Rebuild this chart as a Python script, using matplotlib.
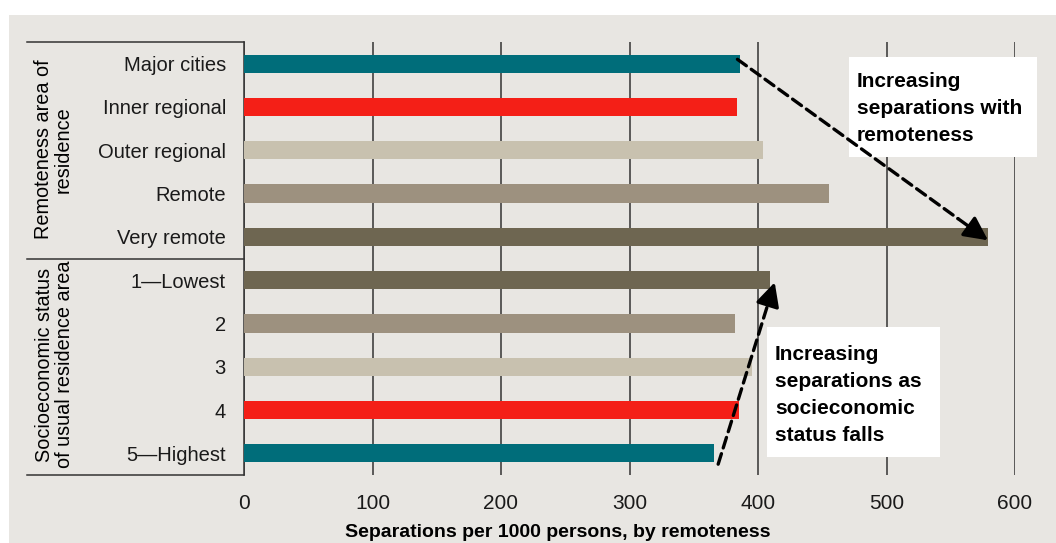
import matplotlib.pyplot as plt
from matplotlib.patches import Rectangle
import matplotlib.transforms as mtransforms

# donnees
categories = ['Major cities', 'Inner regional', 'Outer regional', 'Remote', 'Very remote',
              '1\u2014Lowest', '2', '3', '4', '5\u2014Highest']
values = [386, 384, 404, 455, 579, 409, 382, 395, 385, 366]
colours = ['#006D7A', '#F41F17', '#C8C1AF', '#9D917F', '#6E6651',
           '#6E6651', '#9D917F', '#C8C1AF', '#F41F17', '#006D7A']
groups = ['Remoteness area of\nresidence', 'Socioeconomic status\nof usual residence area']
xticks = [0, 100, 200, 300, 400, 500, 600]
note1 = 'Increasing\nseparations with\nremoteness'
note2 = 'Increasing\nseparations as\nsocieconomic\nstatus falls'

W, H = 1056, 543
def fx(px):
    return px / W
def fy(py):
    return 1 - py / H

plt.rcParams['font.family'] = ['Liberation Sans', 'DejaVu Sans']
fig = plt.figure(figsize=(W / 100, H / 100), dpi=100, facecolor='white')

# panneau gris
fig.patches.append(Rectangle((fx(9), 0), 1 - fx(9), fy(15), transform=fig.transFigure,
                             facecolor='#E8E6E2', edgecolor='none', zorder=-1))

ax = fig.add_axes([fx(244), fy(475), fx(1015) - fx(244), fy(42) - fy(475)])
ax.set_facecolor('none')
ypos = list(range(len(categories)))
ax.barh(ypos, values, height=0.42, color=colours, zorder=3)
ax.set_xlim(0, 600)
ax.set_ylim(len(categories) - 0.5, -0.5)
ax.set_xticks(xticks)
ax.set_xticklabels([str(t) for t in xticks], fontsize=15)
ax.set_yticks(ypos)
ax.set_yticklabels(categories, fontsize=14.5)
ax.tick_params(axis='both', length=0, colors='#1a1a1a')
ax.tick_params(axis='x', pad=14)
ax.tick_params(axis='y', pad=13)
ax.grid(axis='x', color='#333333', lw=1.1, zorder=1)
for s in ['top', 'right', 'bottom']:
    ax.spines[s].set_visible(False)
ax.spines['left'].set_color('#333333')
ax.spines['left'].set_linewidth(1.1)
ax.set_xlabel('Separations per 1000 persons, by remoteness', fontsize=14, fontweight='bold',
              labelpad=7.5, x=(558 - 244) / (1015 - 244))

# lignes de separation des groupes
trans = mtransforms.blended_transform_factory(fig.transFigure, ax.transData)
for yl in [-0.5, 4.5, len(categories) - 0.5]:
    ax.plot([fx(27), fx(244)], [yl, yl], transform=trans, color='#333333', lw=1.1, clip_on=False)

# titres de groupes
ax.text(fx(53.5), 1.98, groups[0], transform=trans, rotation=90, ha='center', va='center',
        fontsize=14.3, linespacing=1.05)
ax.text(fx(54.5), 6.95, groups[1], transform=trans, rotation=90, ha='center', va='center',
        fontsize=14.3, linespacing=1.05)

# boites de texte
ax.add_patch(Rectangle((fx(849), fy(157)), fx(1037) - fx(849), fy(57) - fy(157),
                       transform=fig.transFigure, facecolor='white', edgecolor='none',
                       zorder=4, clip_on=False))
ax.add_patch(Rectangle((fx(767), fy(457)), fx(940) - fx(767), fy(327) - fy(457),
                       transform=fig.transFigure, facecolor='white', edgecolor='none',
                       zorder=4, clip_on=False))
ax.text(fx(857), fy(72.5), note1, transform=fig.transFigure, ha='left', va='top', fontsize=15,
        fontweight='bold', linespacing=1.53, zorder=6)
ax.text(fx(775), fy(345), note2, transform=fig.transFigure, ha='left', va='top', fontsize=15,
        fontweight='bold', linespacing=1.53, zorder=6)

# fleches : trait pointille puis tete pleine
line = dict(arrowstyle='-', ls=(0, (3.3, 1.8)), lw=2.4, color='black', shrinkA=0, shrinkB=0)
head = dict(arrowstyle='-|>,head_length=0.9,head_width=0.45', mutation_scale=16,
            lw=2.4, color='black', shrinkA=0, shrinkB=0)
arrows = [((values[0] - 2, -0.1), (values[4], 4.08)),
          ((values[9] + 3, 9.25), (values[5] + 4, 5.05))]
for (x0, y0), (x1, y1) in arrows:
    xm, ym = x1 - 0.12 * (x1 - x0), y1 - 0.12 * (y1 - y0)
    ax.annotate('', xy=(xm, ym), xytext=(x0, y0), arrowprops=line,
                annotation_clip=False, zorder=5)
    ax.annotate('', xy=(x1, y1), xytext=(xm, ym), arrowprops=head,
                annotation_clip=False, zorder=5)

plt.savefig('out.png', dpi=100, facecolor='white')
